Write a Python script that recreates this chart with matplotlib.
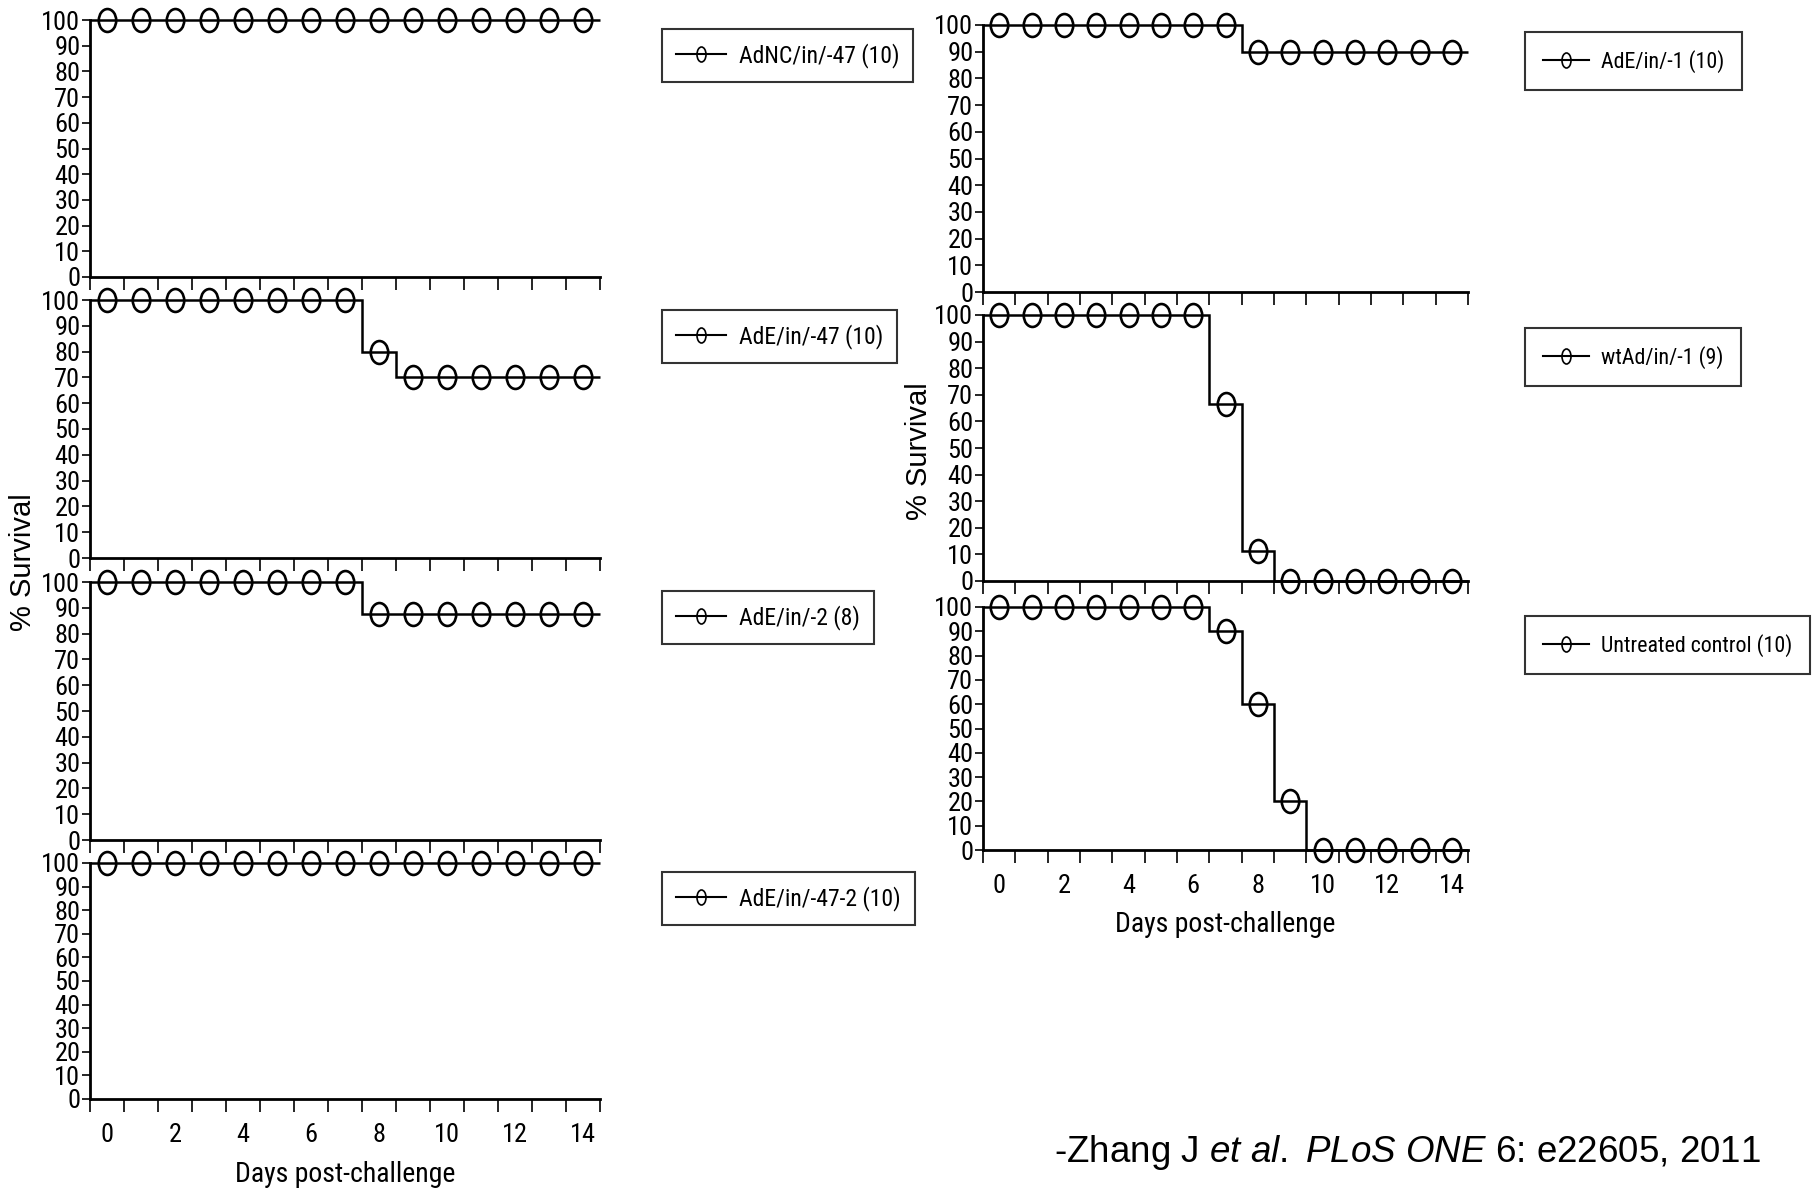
import numpy as np
import matplotlib
matplotlib.use('Agg')
import matplotlib.pyplot as plt
from matplotlib import font_manager
from matplotlib.path import Path
from matplotlib.transforms import Affine2D
from matplotlib.lines import Line2D

# survival data (% alive), one value per day 0..14
days = [0, 1, 2, 3, 4, 5, 6, 7, 8, 9, 10, 11, 12, 13, 14]

left_labels = ['AdNC/in/-47 (10)', 'AdE/in/-47 (10)', 'AdE/in/-2 (8)', 'AdE/in/-47-2 (10)']
surv_adnc47 = [100, 100, 100, 100, 100, 100, 100, 100, 100, 100, 100, 100, 100, 100, 100]
surv_ade47 = [100, 100, 100, 100, 100, 100, 100, 100, 80, 70, 70, 70, 70, 70, 70]
surv_ade2 = [100, 100, 100, 100, 100, 100, 100, 100, 87.5, 87.5, 87.5, 87.5, 87.5, 87.5, 87.5]
surv_ade47_2 = [100, 100, 100, 100, 100, 100, 100, 100, 100, 100, 100, 100, 100, 100, 100]

right_labels = ['AdE/in/-1 (10)', 'wtAd/in/-1 (9)', 'Untreated control (10)']
surv_ade1 = [100, 100, 100, 100, 100, 100, 100, 100, 90, 90, 90, 90, 90, 90, 90]
surv_wtad = [100, 100, 100, 100, 100, 100, 100, 66.7, 11.1, 0, 0, 0, 0, 0, 0]
surv_ctrl = [100, 100, 100, 100, 100, 100, 100, 90, 60, 20, 0, 0, 0, 0, 0]

yticks = [0, 10, 20, 30, 40, 50, 60, 70, 80, 90, 100]
xtick_labels = ['0', '2', '4', '6', '8', '10', '12', '14']

REG = 'Liberation Sans'


# the figure uses a narrow Helvetica; take a condensed face if one is installed
def pick_narrow():
    fl = font_manager.fontManager.ttflist
    names = {f.name for f in fl}
    for nm in ['Liberation Sans Narrow', 'Roboto Condensed', 'Open Sans Condensed']:
        if nm in names:
            return nm, 'normal', True
    for nm in ['Roboto', 'Noto Sans', 'Open Sans']:
        for f in fl:
            if f.name == nm and str(f.stretch) in ('condensed', 'semi-condensed', 'extra-condensed'):
                return nm, 'condensed', True
    return REG, 'normal', False


NARROW, STRETCH, IS_NARROW = pick_narrow()
LEG_SIZE = 17 if IS_NARROW else 15.5
LEG_SIZE_R = 15.8 if IS_NARROW else 14.5
XLAB_SIZE = 20 if IS_NARROW else 18
TICK_SIZE = 19 if IS_NARROW else 17

plt.rcParams['font.family'] = [NARROW, 'DejaVu Sans']
plt.rcParams['font.stretch'] = STRETCH
plt.rcParams['mathtext.fontset'] = 'custom'
plt.rcParams['mathtext.rm'] = 'Liberation Sans'
plt.rcParams['mathtext.it'] = 'Liberation Sans:italic'

W, H = 1813, 1193
fig = plt.figure(figsize=(W / 100, H / 100), dpi=100)

# open ellipse marker like the original
ellipse = Affine2D().scale(0.76, 1.0).transform_path(Path.unit_circle())
leg_ellipse = Affine2D().scale(0.6, 1.0).transform_path(Path.unit_circle())


def add_ax(l, t, r, b):
    return fig.add_axes([l / W, 1 - b / H, (r - l) / W, (b - t) / H])


def survival_panel(ax, surv, label, leg_xy, bottom=False, bpad=0.6, lsize=LEG_SIZE):
    edges = np.arange(-0.5, 15.5, 1)
    ax.stairs(surv, edges, baseline=None, color='black', lw=1.8, clip_on=False)
    ax.plot(days, surv, ls='none', marker=ellipse, ms=16.5, mfc='none',
            mec='black', mew=1.9, clip_on=False)
    ax.set_xlim(-0.5, 14.5)
    ax.set_ylim(0, 100)
    for s in ['top', 'right']:
        ax.spines[s].set_visible(False)
    for s in ['left', 'bottom']:
        ax.spines[s].set_linewidth(2.0)
    ax.set_yticks(yticks)
    ax.tick_params(axis='y', length=6, width=1.2, pad=1, labelsize=TICK_SIZE)
    ax.set_xticks(edges, labels=[''] * len(edges))
    ax.tick_params(axis='x', which='major', length=9, width=1.2, direction='out')
    if bottom:
        ax.set_xticks(np.arange(0, 15, 2), labels=xtick_labels, minor=True)
        ax.tick_params(axis='x', which='minor', length=0, pad=17, labelsize=TICK_SIZE)
        ax.set_xlabel('Days post-challenge', fontsize=XLAB_SIZE, labelpad=10)
    handle = Line2D([], [], color='black', lw=1.5, marker=leg_ellipse, ms=10.8,
                    mfc='none', mec='black', mew=1.2)
    leg = ax.legend([handle], [label], loc='upper left',
                    bbox_to_anchor=(leg_xy[0] / W, 1 - leg_xy[1] / H),
                    bbox_transform=fig.transFigure, borderaxespad=0,
                    fancybox=False, frameon=True, edgecolor='black',
                    fontsize=lsize, handlelength=2.1, handletextpad=0.55,
                    borderpad=bpad)
    leg.get_frame().set_linewidth(1.5)


# left column
left_boxes = [(90, 20, 600, 277), (90, 300, 600, 558), (90, 582, 600, 840), (90, 863, 600, 1099)]
left_surv = [surv_adnc47, surv_ade47, surv_ade2, surv_ade47_2]
left_leg = [(662, 29), (662, 310), (662, 591), (662, 872)]
for i in range(4):
    ax = add_ax(*left_boxes[i])
    survival_panel(ax, left_surv[i], left_labels[i], left_leg[i], bottom=(i == 3))

# right column
right_boxes = [(983, 25, 1468, 292), (983, 315, 1468, 581), (983, 607, 1468, 850)]
right_surv = [surv_ade1, surv_wtad, surv_ctrl]
right_leg = [(1525, 32), (1525, 328), (1525, 616)]
for i in range(3):
    ax = add_ax(*right_boxes[i])
    survival_panel(ax, right_surv[i], right_labels[i], right_leg[i], bottom=(i == 2),
                   bpad=0.8, lsize=LEG_SIZE_R)

fig.text(23 / W, 1 - 562 / H, '% Survival', rotation=90, ha='center', va='center',
         fontsize=21, family=REG, stretch='normal')
fig.text(919 / W, 1 - 451 / H, '% Survival', rotation=90, ha='center', va='center',
         fontsize=21, family=REG, stretch='normal')

fig.text(1054 / W, 1 - 1152 / H,
         r'-Zhang J $\mathit{et\ al.\ PLoS\ ONE}$ 6: e22605, 2011',
         ha='left', va='center', fontsize=26.5, family=REG, stretch='normal')

fig.savefig('out.png', dpi=100)
